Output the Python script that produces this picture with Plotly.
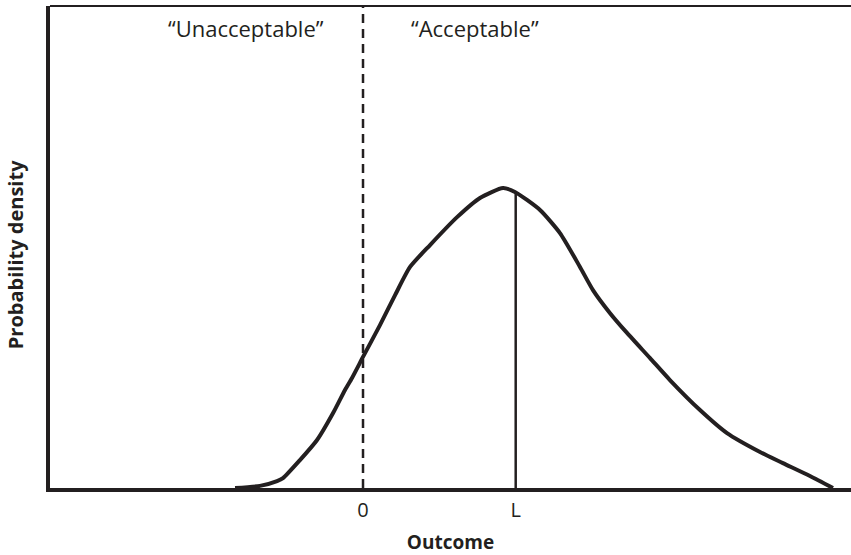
import plotly.graph_objects as go

# Outcome (x) and probability density (y)
outcome = [-0.838, -0.675, -0.563, -0.524, -0.413, -0.301, -0.196, -0.118, -0.072, 0.0,
           0.111, 0.210, 0.308, 0.439, 0.616, 0.766, 0.917, 0.995, 1.159, 1.290,
           1.421, 1.506, 1.618, 1.729, 1.880, 2.010, 2.207, 2.384, 2.600, 2.750,
           2.927, 3.078]
density = [0.0, 0.007, 0.023, 0.033, 0.093, 0.160, 0.250, 0.327, 0.367, 0.437,
           0.543, 0.643, 0.737, 0.810, 0.903, 0.967, 1.000, 0.987, 0.927, 0.850,
           0.737, 0.660, 0.583, 0.517, 0.433, 0.360, 0.260, 0.183, 0.120, 0.083,
           0.040, 0.0]

tick_vals = [0, 1]
tick_text = ["0", "L"]
threshold = 0
limit_L = 1
limit_density = 0.987
region_labels = ["\u201cUnacceptable\u201d", "\u201cAcceptable\u201d"]
region_x = [-0.766, 0.733]

x_range = [-2.05, 3.196]
y_range = [0, 1.607]

ink = "#231f20"
font_family = "Open Sans, Noto Sans, sans-serif"

fig = go.Figure()
fig.add_trace(go.Scatter(x=outcome, y=density, mode="lines",
                         line=dict(color=ink, width=4, shape="spline", smoothing=0.6),
                         hoverinfo="skip", showlegend=False))
fig.add_trace(go.Scatter(x=[limit_L, limit_L], y=[0, limit_density], mode="lines",
                         line=dict(color=ink, width=2.5), hoverinfo="skip", showlegend=False))

# dashed threshold line at 0
fig.add_shape(type="line", xref="x", yref="paper", x0=threshold, x1=threshold, y0=0, y1=1,
              line=dict(color=ink, width=2.5, dash="9px,6px"), layer="below")
# thin top frame line
fig.add_shape(type="line", xref="paper", yref="paper", x0=0, x1=1, y0=1, y1=1,
              line=dict(color=ink, width=1.8))

for txt, xv in zip(region_labels, region_x):
    fig.add_annotation(x=xv, y=0.955, xref="x", yref="paper", text=txt, showarrow=False,
                       xanchor="center", yanchor="middle",
                       font=dict(family=font_family, size=22, color=ink))

# y-axis title
fig.add_annotation(x=0, y=0.483, xref="paper", yref="paper", xshift=-35,
                   text="<b>Probability density</b>", textangle=-90, showarrow=False,
                   xanchor="center", yanchor="middle",
                   font=dict(family=font_family, size=20, color=ink))

fig.update_layout(
    width=851, height=555,
    margin=dict(l=50, r=0, t=6, b=67),
    paper_bgcolor="white", plot_bgcolor="white",
    font=dict(family=font_family, color=ink),
    xaxis=dict(range=x_range, tickvals=tick_vals, ticktext=tick_text,
               showgrid=False, zeroline=False, showline=True, linecolor=ink, linewidth=3.5,
               ticks="outside", ticklen=1, tickcolor="rgba(0,0,0,0)",
               tickfont=dict(size=20, family=font_family, color=ink),
               title=dict(text="<b>Outcome</b>", font=dict(size=19, family=font_family, color=ink),
                          standoff=18)),
    yaxis=dict(range=y_range, showticklabels=False, ticks="",
               showgrid=False, zeroline=False, showline=True, linecolor=ink, linewidth=3.5),
)

fig.write_html("out.html", config={"displayModeBar": False},
               post_script="document.body.style.margin='0';")
